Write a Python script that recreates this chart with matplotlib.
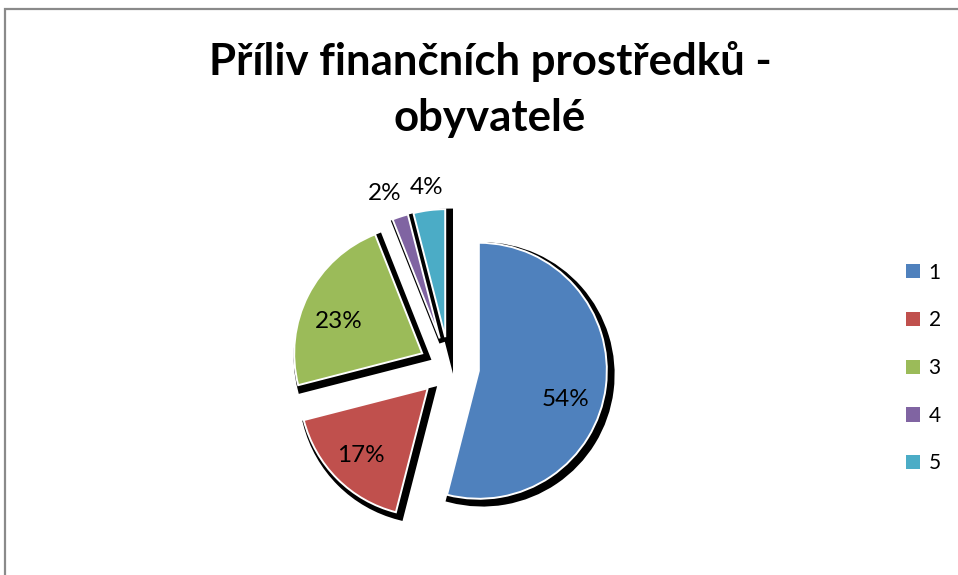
import numpy as np
import matplotlib.pyplot as plt
import matplotlib.patheffects as pe
from matplotlib.patches import Rectangle

plt.rcParams['font.family'] = ['Lato', 'DejaVu Sans']

# podíly jednotlivých zdrojů (%)
categories = ['1', '2', '3', '4', '5']
shares = [54, 17, 23, 2, 4]
colors = ['#4F81BD', '#C0504D', '#9BBB59', '#8064A2', '#4BACC6']
title_lines = ['Příliv finančních prostředků -', 'obyvatelé']

# poloha popisků: vzdálenost od středu výseče (v poloměrech) a pootočení (°)
label_dist = [0.71, 0.74, 0.70, 1.21, 1.18]
label_turn = [-11, 0, 6, 3, 0]

W, H = 958, 575
fig = plt.figure(figsize=(W / 100, H / 100), dpi=100)

# rámeček grafu
fig.add_artist(Rectangle((5 / W, -0.1), 2, 1 - 9 / H + 0.1, transform=fig.transFigure,
                         fill=False, edgecolor='#8a8a8a', lw=1.6))

for line, ypx in zip(title_lines, [62, 118]):
    fig.text(490 / W, 1 - ypx / H, line, ha='center', va='center', fontsize=31.5,
             fontweight='bold')

# osa pro koláč: střed (449, 367) px, poloměr 128 px
cx, cy, r, box = 449, 367, 128, 440
ax = fig.add_axes([(cx - box / 2) / W, 1 - (cy + box / 2) / H, box / W, box / H])

# černý stín posunutý doprava dolů
shadow = [pe.Stroke(offset=(2.6, -2.6), linewidth=6, foreground='black'),
          pe.SimplePatchShadow(offset=(2.6, -2.6), shadow_rgbFace='black', alpha=1.0),
          pe.Normal()]

wedges, _ = ax.pie(shares, colors=colors, startangle=90, counterclock=False,
                   explode=[0.235] * len(shares), radius=1,
                   wedgeprops=dict(edgecolor='white', linewidth=1.4))
for w in wedges:
    w.set_path_effects(shadow)

lim = box / 2 / r
ax.set_xlim(-lim, lim)
ax.set_ylim(-lim, lim)
ax.set_aspect('equal')
ax.axis('off')

total = sum(shares)
for w, val, d, t in zip(wedges, shares, label_dist, label_turn):
    ang = np.deg2rad((w.theta1 + w.theta2) / 2 + t)
    x0, y0 = w.center
    ax.text(x0 + d * np.cos(ang), y0 + d * np.sin(ang), f'{val / total * 100:.0f}%',
            ha='center', va='center', fontsize=17.5, color='black')

leg = fig.legend(wedges, categories, loc='center left',
                 bbox_to_anchor=(906 / W, 1 - 368 / H), frameon=False,
                 fontsize=15, borderpad=0, borderaxespad=0,
                 handlelength=0.68, handleheight=0.68, handletextpad=0.4,
                 labelspacing=1.33)
for h in leg.legend_handles:
    h.set_path_effects([])
    h.set_edgecolor('none')

fig.savefig('out.png', dpi=100)
